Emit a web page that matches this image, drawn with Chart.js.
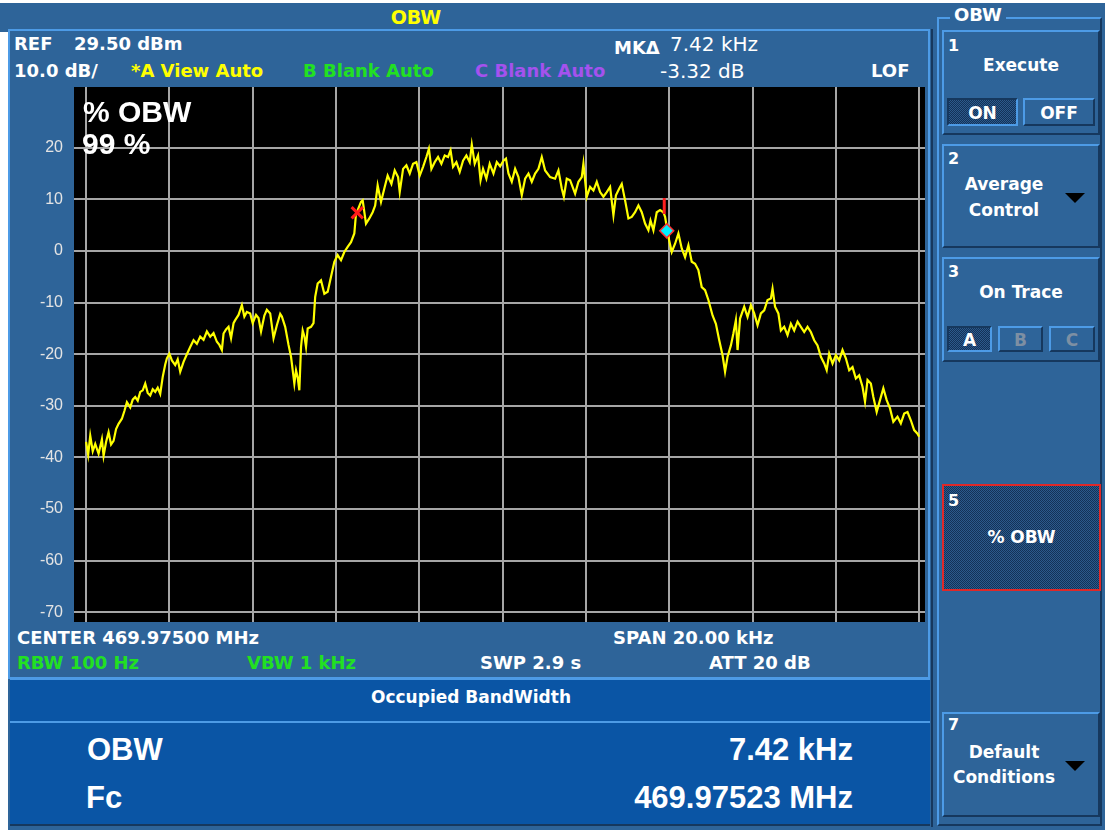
<!DOCTYPE html>
<html>
<head>
<meta charset="utf-8">
<title>OBW</title>
<script src="https://cdn.jsdelivr.net/npm/chart.js@4"></script>
<style>
  html, body { margin: 0; padding: 0; }
  body { width: 1108px; height: 830px; position: relative; overflow: hidden; background: #fff; }
  .bg { position: absolute; }
  .t { position: absolute; white-space: pre; line-height: 1; font-family: 'DejaVu Sans', sans-serif; font-weight: bold; font-size: 18px; color: #fff; }
  .res { font-family: 'Liberation Sans', Arial, sans-serif; font-size: 31px; }
  .key { position: absolute; box-sizing: border-box; border-top: 2px solid #4d9be6; border-left: 2px solid #4d9be6; border-right: 2px solid #16385e; border-bottom: 2px solid #16385e; background: #2e6499; }
  .key .t { font-size: 17px; }
  .key .n { font-size: 16px; left: 4px; }
  .sub { position: absolute; box-sizing: border-box; border-top: 2px solid #4d9be6; border-left: 2px solid #4d9be6; border-right: 2px solid #16385e; border-bottom: 2px solid #16385e; background: #2e6499; }
  .sub.on { border-color: #16385e #4d9be6 #4d9be6 #16385e; }
  .dith { background-color: #1f4675; background-image: repeating-conic-gradient(#2c5a8c 0% 25%, #133258 0% 50%); background-size: 2px 2px; }
  .sub .t { width: 100%; text-align: center; font-size: 17px; }
  .tri { position: absolute; width: 0; height: 0; border-left: 10px solid transparent; border-right: 10px solid transparent; border-top: 10px solid #000; }
  canvas { position: absolute; left: 0; top: 87px; }
</style>
</head>
<body>
<!-- panels -->
<div class="bg" style="left:0;top:3px;width:1105px;height:827px;background:#2e6499"></div>
<div class="bg" style="left:0;top:32px;width:8px;height:798px;background:#fff"></div>
<div class="bg" style="left:8px;top:29px;width:922px;height:2px;background:#4d9be6"></div>
<div class="bg" style="left:8px;top:29px;width:2px;height:650px;background:#4d9be6"></div>
<div class="bg" style="left:928px;top:29px;width:2px;height:650px;background:#4d9be6"></div>
<div class="bg" style="left:931px;top:29px;width:2px;height:798px;background:#16385e"></div>
<div class="bg" style="left:10px;top:677px;width:920px;height:3px;background:#4d9be6"></div>
<div class="bg" style="left:10px;top:680px;width:920px;height:41px;background:#0a55a5"></div>
<div class="bg" style="left:10px;top:721px;width:920px;height:2px;background:#4d9be6"></div>
<div class="bg" style="left:10px;top:723px;width:920px;height:101px;background:#0a55a5"></div>
<div class="bg" style="left:10px;top:824px;width:920px;height:2px;background:#16385e"></div>

<!-- header -->
<div class="t" style="left:316px;width:200px;text-align:center;top:8px;font-size:19px;color:#ffff00">OBW</div>
<div class="t" style="left:14px;top:35px">REF</div>
<div class="t" style="left:74px;top:35px">29.50 dBm</div>
<div class="t" style="left:14px;top:62px">10.0 dB/</div>
<div class="t" style="left:131px;top:62px;color:#ffff00">*A View Auto</div>
<div class="t" style="left:303px;top:62px;color:#22e022">B Blank Auto</div>
<div class="t" style="left:475px;top:62px;color:#a452ee">C Blank Auto</div>
<div class="t" style="left:614px;top:39px">MKΔ</div>
<div class="t" style="left:670px;top:34px;font-weight:normal;font-size:20px">7.42 kHz</div>
<div class="t" style="left:660px;top:61px;font-weight:normal;font-size:20px">-3.32 dB</div>
<div class="t" style="left:871px;top:62px">LOF</div>

<canvas id="obw" width="930" height="535"></canvas>

<div class="t res" style="left:83px;top:97px;font-size:30px">% OBW</div>
<div class="t res" style="left:82px;top:129px;font-size:30px">99 %</div>

<!-- footer of the display -->
<div class="t" style="left:17px;top:629px">CENTER 469.97500 MHz</div>
<div class="t" style="left:613px;top:629px">SPAN 20.00 kHz</div>
<div class="t" style="left:17px;top:654px;color:#22e022">RBW 100 Hz</div>
<div class="t" style="left:247px;top:654px;color:#22e022">VBW 1 kHz</div>
<div class="t" style="left:480px;top:654px">SWP 2.9 s</div>
<div class="t" style="left:709px;top:654px">ATT 20 dB</div>

<div class="t" style="left:271px;width:400px;text-align:center;top:689px;font-size:17px">Occupied BandWidth</div>
<div class="t res" style="left:87px;top:734px">OBW</div>
<div class="t res" style="left:553px;width:300px;text-align:right;top:734px">7.42 kHz</div>
<div class="t res" style="left:86px;top:782px">Fc</div>
<div class="t res" style="left:453px;width:400px;text-align:right;top:782px">469.97523 MHz</div>

<!-- soft keys -->
<div class="bg" style="left:937px;top:17px;width:165px;height:809px;box-sizing:border-box;border:2px solid #4d9be6;border-right-color:#16385e;border-bottom-color:#16385e"></div>
<div class="t" style="left:950px;top:6px;padding:0 4px;background:#2e6499">OBW</div>

<div class="key" style="left:942px;top:30px;width:158px;height:105px">
  <div class="t n" style="top:6px">1</div>
  <div class="t" style="left:0;width:154px;text-align:center;top:25px">Execute</div>
</div>
<div class="sub on dith" style="left:947px;top:98px;width:71px;height:28px"><div class="t" style="top:5px">ON</div></div>
<div class="sub" style="left:1023px;top:98px;width:72px;height:28px"><div class="t" style="top:5px">OFF</div></div>

<div class="key" style="left:942px;top:144px;width:158px;height:104px">
  <div class="t n" style="top:5px">2</div>
  <div class="t" style="left:0;width:120px;text-align:center;top:30px">Average</div>
  <div class="t" style="left:0;width:120px;text-align:center;top:56px">Control</div>
  <div class="tri" style="left:121px;top:47px"></div>
</div>

<div class="key" style="left:942px;top:257px;width:158px;height:105px">
  <div class="t n" style="top:5px">3</div>
  <div class="t" style="left:0;width:154px;text-align:center;top:25px">On Trace</div>
</div>
<div class="sub on dith" style="left:947px;top:326px;width:45px;height:26px"><div class="t" style="top:4px">A</div></div>
<div class="sub" style="left:998px;top:326px;width:45px;height:26px"><div class="t" style="top:4px;color:#7d8fa3">B</div></div>
<div class="sub" style="left:1049px;top:326px;width:46px;height:26px"><div class="t" style="top:4px;color:#7d8fa3">C</div></div>

<div class="key dith" style="left:942px;top:484px;width:159px;height:107px;border:2px solid #e02828">
  <div class="t n" style="top:7px">5</div>
  <div class="t" style="left:0;width:155px;text-align:center;top:43px">% OBW</div>
</div>

<div class="key" style="left:942px;top:712px;width:158px;height:105px">
  <div class="t n" style="top:3px">7</div>
  <div class="t" style="left:0;width:120px;text-align:center;top:30px">Default</div>
  <div class="t" style="left:0;width:120px;text-align:center;top:55px">Conditions</div>
  <div class="tri" style="left:121px;top:47px"></div>
</div>

<script>
// trace A, frequency offset from centre (kHz) and level (dBm)
const freqKHz = [
  -10.00,-9.95,-9.90,-9.84,-9.78,-9.70,-9.62,-9.58,-9.52,-9.46,
  -9.40,-9.34,-9.28,-9.22,-9.14,-9.08,-9.02,-8.94,-8.88,-8.82,
  -8.76,-8.70,-8.64,-8.58,-8.52,-8.46,-8.40,-8.34,-8.28,-8.22,
  -8.16,-8.10,-8.06,-8.00,-7.94,-7.86,-7.80,-7.74,-7.66,-7.58,
  -7.50,-7.42,-7.34,-7.26,-7.18,-7.10,-7.02,-6.94,-6.86,-6.80,
  -6.74,-6.70,-6.64,-6.58,-6.52,-6.46,-6.42,-6.34,-6.26,-6.20,
  -6.14,-6.06,-6.00,-5.92,-5.86,-5.80,-5.72,-5.66,-5.58,-5.50,
  -5.42,-5.34,-5.30,-5.22,-5.14,
  -5.08,-5.04,-5.00,-4.96,-4.92,-4.88,-4.84,-4.80,-4.76,-4.72,
  -4.68,-4.60,-4.54,-4.50,-4.44,-4.36,-4.28,-4.20,-4.12,-4.04,
  -3.96,-3.88,-3.80,-3.72,-3.64,-3.56,-3.52,-3.48,-3.40,-3.36,
  -3.28,-3.20,-3.12,-3.06,-3.00,-2.92,-2.84,-2.76,-2.67,-2.59,
  -2.51,-2.47,-2.39,-2.31,-2.23,-2.15,-2.07,-1.99,-1.91,-1.83,
  -1.77,-1.71,-1.63,-1.55,-1.47,-1.39,-1.31,-1.25,-1.19,-1.11,
  -1.03,-0.95,-0.87,-0.79,-0.74,-0.67,-0.59,-0.53,-0.47,-0.39,
  -0.31,-0.22,-0.14,-0.06,0.02,0.08,
  0.14,0.22,0.30,0.38,0.46,0.54,0.62,0.70,0.78,0.86,
  0.94,1.02,1.14,1.26,1.34,1.42,1.47,1.54,1.62,1.74,
  1.82,1.90,1.94,2.02,2.10,2.18,2.26,2.34,2.42,2.50,
  2.58,2.66,2.72,2.80,2.86,2.94,3.02,3.10,3.18,3.26,
  3.34,3.42,3.50,3.55,3.62,3.70,3.78,3.86,3.90,3.98,
  4.06,4.14,4.22,4.30,4.38,4.46,4.54,4.62,4.70,4.78,
  4.86,4.94,
  5.04,5.12,5.20,5.28,5.34,5.40,5.48,5.54,5.60,5.64,
  5.70,5.80,5.88,5.96,6.04,6.12,6.20,6.28,6.36,6.44,
  6.48,6.54,6.62,6.68,6.76,6.84,6.92,7.00,7.08,7.16,
  7.24,7.32,7.40,7.48,7.56,7.64,7.72,7.78,7.84,7.92,
  8.00,8.08,8.16,8.24,8.32,8.40,8.48,8.56,8.64,8.70,
  8.76,8.84,8.90,8.98,9.06,9.14,9.22,9.30,9.38,9.48,
  9.56,9.64,9.72,9.80,9.88,9.96,10.00
];
const levelDb = [
  -37.0,-39.5,-35.8,-38.8,-37.4,-39.3,-36.5,-39.7,-37.0,-35.1,
  -37.5,-36.8,-34.5,-33.5,-32.5,-31.0,-29.3,-30.3,-28.8,-28.3,
  -29.0,-27.3,-27.0,-25.7,-27.5,-28.0,-26.8,-27.3,-26.5,-27.7,
  -24.4,-22.0,-20.8,-19.9,-21.2,-22.1,-21.0,-23.4,-21.5,-20.0,
  -18.6,-17.3,-18.0,-16.6,-17.2,-15.6,-16.6,-15.9,-17.6,-18.2,
  -19.2,-16.0,-15.2,-14.7,-16.9,-14.0,-13.4,-12.4,-10.5,-12.7,
  -11.8,-12.1,-14.0,-12.4,-13.0,-15.6,-12.5,-11.4,-12.1,-16.9,
  -14.4,-12.2,-12.7,-14.7,-18.2,
  -20.5,-23.1,-25.7,-23.1,-24.5,-27.0,-18.6,-15.4,-16.5,-18.6,
  -15.0,-14.7,-14.0,-8.9,-6.3,-5.7,-8.3,-7.9,-5.0,-2.1,
  -0.8,-1.8,-0.2,0.8,1.7,3.4,7.2,7.9,9.5,9.8,
  5.3,6.3,7.5,8.8,12.7,9.5,12.1,14.6,13.0,15.6,
  14.3,11.4,15.9,16.6,15.0,16.9,17.2,14.6,16.3,18.2,
  19.8,15.9,17.2,18.2,16.9,18.5,18.2,19.5,16.3,17.2,
  15.3,17.5,18.5,17.2,20.6,16.9,18.5,13.7,15.9,14.0,
  16.9,15.0,17.2,16.4,17.5,17.9,
  15.0,13.4,15.9,14.3,10.8,14.0,15.0,13.4,15.0,15.9,
  18.2,15.6,14.3,14.0,15.6,12.1,10.5,14.0,13.7,11.1,
  13.4,14.3,16.9,10.5,12.4,11.7,13.4,11.4,10.5,11.4,
  12.4,6.9,10.8,12.1,13.0,9.8,6.3,6.6,7.5,8.8,
  7.5,5.3,4.0,5.9,4.0,7.5,7.9,7.5,6.6,2.7,
  -0.2,1.4,3.4,0.5,-1.2,1.1,-2.1,-2.5,-3.7,-7.0,
  -7.6,-9.5,
  -12.5,-14.1,-17.3,-20.2,-23.4,-20.5,-18.3,-16.0,-13.4,-19.2,
  -13.1,-10.8,-12.8,-10.5,-12.1,-14.4,-12.1,-11.5,-9.5,-9.2,
  -7.3,-10.8,-12.1,-15.4,-14.7,-16.3,-14.1,-15.4,-13.7,-14.7,
  -15.7,-14.7,-15.7,-17.3,-18.3,-20.5,-21.8,-23.1,-19.9,-21.8,
  -20.2,-21.2,-19.2,-20.8,-23.1,-22.5,-24.7,-24.1,-26.3,-29.2,
  -25.0,-25.7,-28.3,-31.2,-28.9,-26.6,-28.9,-30.5,-33.1,-32.1,
  -33.4,-31.5,-31.2,-32.8,-34.7,-35.4,-36.0
];

// OBW edge markers
const lowerEdgeKHz = [-3.49], lowerEdgeDb = [7.4];
const upperEdgeKHz = [3.94],  upperEdgeDb = [3.9];
const mk1KHz = [3.88], mk1Db = [8.7];

// screen scale: 10 dB/div, span 20 kHz
const xTicksStep = 2;
const yTicksStep = 10;

const pts = (xs, ys) => xs.map((x, i) => ({ x: x, y: ys[i] }));

// black graticule background
const blackPlot = {
    id: 'blackPlot',
    beforeDraw(chart) {
        const a = chart.chartArea;
        const c = chart.ctx;
        c.save();
        c.fillStyle = '#000';
        c.fillRect(a.left, a.top, a.right - a.left, a.bottom - a.top);
        c.restore();
    }
};

const gridOpts = { color: '#a6a6a6', lineWidth: 2, drawTicks: false };

new Chart(document.getElementById('obw'), {
    type: 'line',
    data: {
        datasets: [
            {
                data: pts(mk1KHz, mk1Db), showLine: false,
                pointStyle: 'line', pointRotation: 90, pointRadius: 8,
                pointBorderColor: '#ff2020', pointBorderWidth: 3
            },
            {
                data: pts(lowerEdgeKHz, lowerEdgeDb), showLine: false,
                pointStyle: 'crossRot', pointRadius: 8,
                pointBorderColor: '#ff1a1a', pointBorderWidth: 3
            },
            {
                data: pts(upperEdgeKHz, upperEdgeDb), showLine: false,
                pointStyle: 'rectRot', pointRadius: 7,
                pointBackgroundColor: '#00f0ff', pointBorderColor: '#ff3030', pointBorderWidth: 1.5
            },
            {
                data: pts(freqKHz, levelDb),
                borderColor: '#ffff00', borderWidth: 2.2,
                pointRadius: 0, tension: 0
            }
        ]
    },
    options: {
        responsive: false,
        animation: false,
        events: [],
        layout: { autoPadding: false, padding: { left: 10, right: 5, top: 0, bottom: 0 } },
        plugins: { legend: { display: false }, tooltip: { enabled: false } },
        scales: {
            x: {
                type: 'linear', min: -10.29, max: 10.14,
                ticks: { display: false, stepSize: xTicksStep, includeBounds: false },
                grid: gridOpts,
                border: { display: false },
                afterFit(s) { s.height = 0; }
            },
            y: {
                type: 'linear', min: -71.88, max: 31.76,
                ticks: {
                    stepSize: yTicksStep, includeBounds: false, padding: 11,
                    color: '#e4e4e4', font: { family: 'Liberation Sans', size: 16 }
                },
                grid: gridOpts,
                border: { display: false },
                afterBuildTicks(s) { s.ticks = s.ticks.filter(t => t.value <= 20); },
                afterFit(s) { s.width = 64; s.paddingTop = 0; s.paddingBottom = 0; }
            }
        }
    },
    plugins: [blackPlot]
});
</script>
</body>
</html>
